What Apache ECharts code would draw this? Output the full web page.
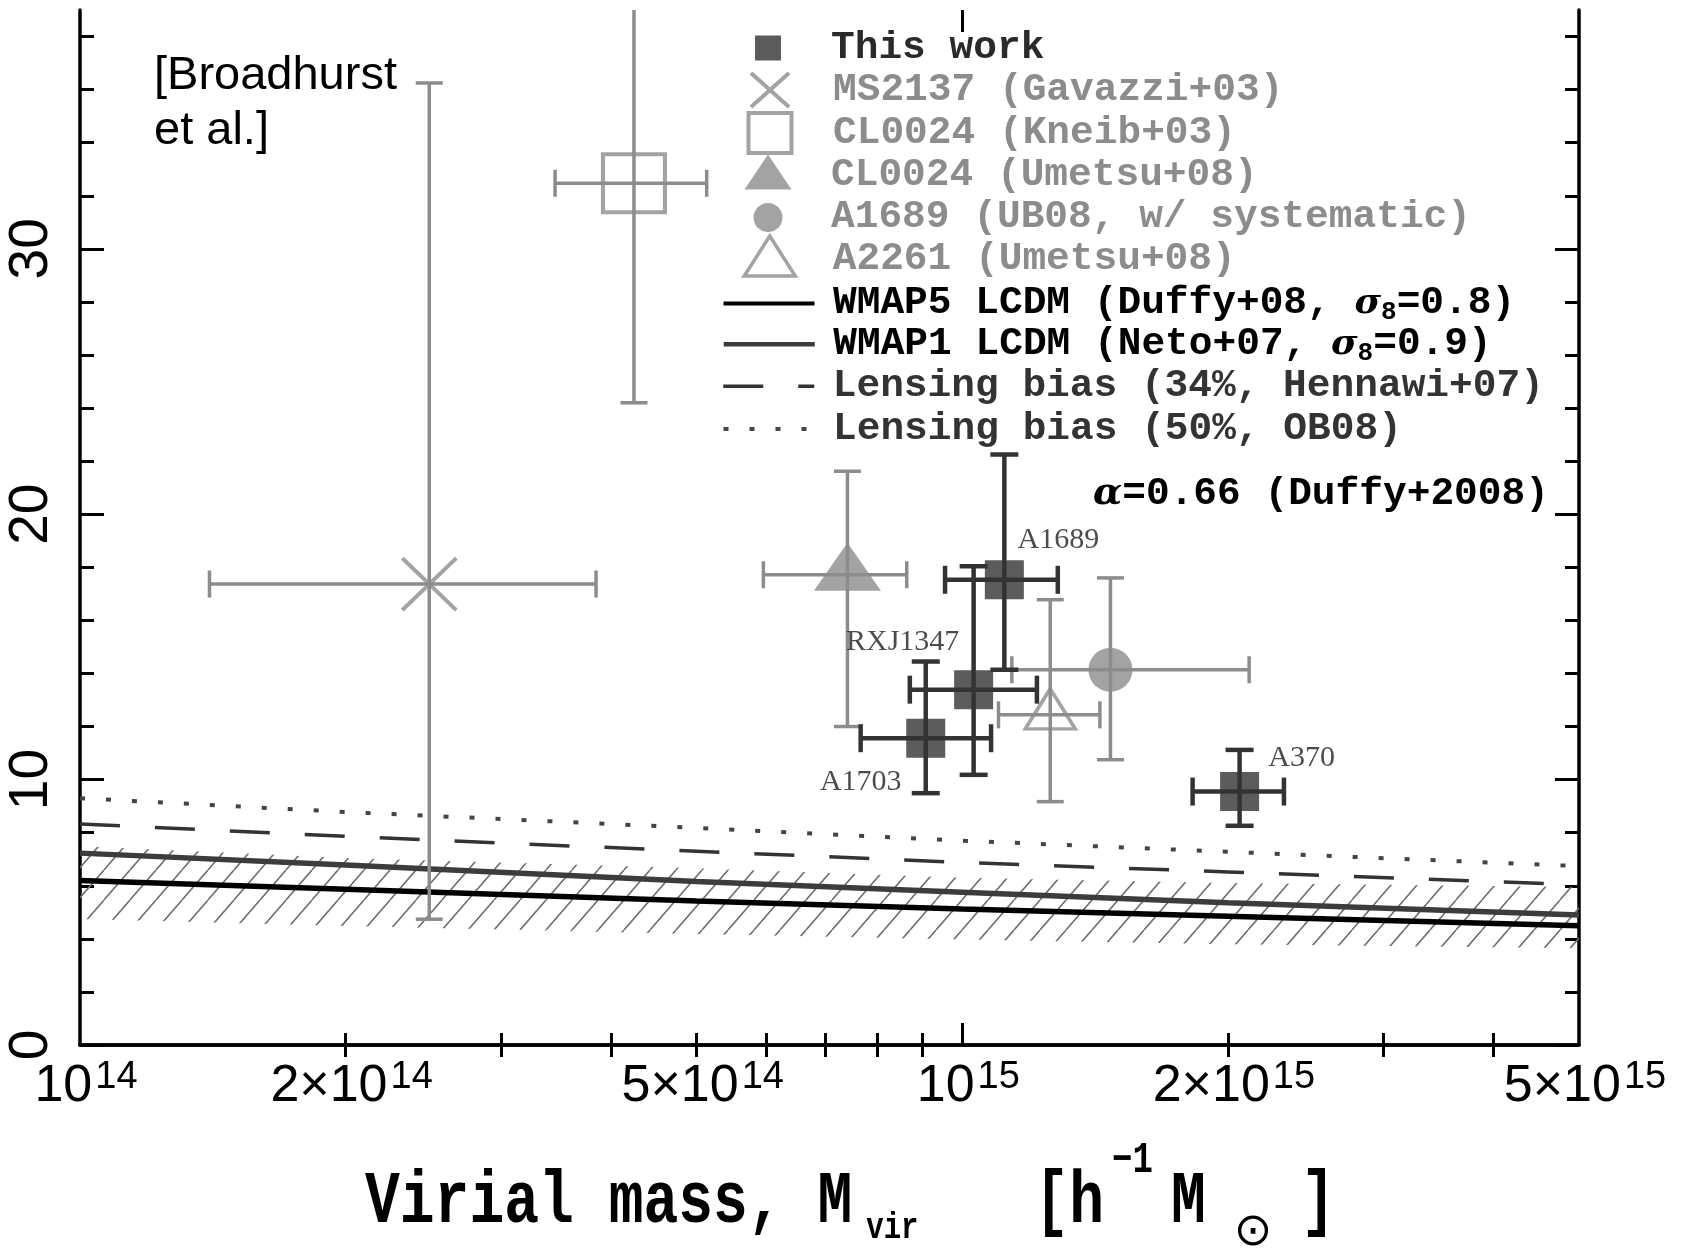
<!DOCTYPE html>
<html>
<head>
<meta charset="utf-8">
<title>Concentration – virial mass relation</title>
<script src="https://cdn.jsdelivr.net/npm/echarts@6/dist/echarts.min.js"></script>
<style>
  html, body { margin: 0; padding: 0; background: #fff; }
  #chart { width: 1683px; height: 1250px; }
</style>
</head>
<body>
<div id="chart"></div>
<script>
// ---- axis ranges and ticks -------------------------------------------------
const massRange = [1e14, 5e15];           // h^-1 Msun
const concRange = [0, 39];
const massMinorTicks = [2e14, 3e14, 4e14, 5e14, 6e14, 7e14, 8e14, 9e14, 2e15, 3e15, 4e15];
const massMajorTicks = [1e15];
const massTickLabels = [1e14, 2e14, 5e14, 1e15, 2e15, 5e15];
const concMajorTicks = [0, 10, 20, 30];
const concMinorTicks = [2, 4, 6, 8, 12, 14, 16, 18, 22, 24, 26, 28, 32, 34, 36, 38];

// ---- cluster measurements: [Mvir, cvir, Mlow, Mhigh, clow, chigh] ----------
const thisWorkNames = ['A1689', 'RXJ1347', 'A1703', 'A370'];
const thisWork = [
  [1.116e15, 17.53, 9.56e14, 1.283e15, 14.14, 22.25],
  [1.030e15, 13.39, 8.72e14, 1.215e15, 10.18, 18.04],
  [9.09e14, 11.56, 7.67e14, 1.078e15, 9.49, 14.45],
  [2.062e15, 9.55, 1.824e15, 2.315e15, 8.26, 11.12]
];
const ms2137 = [[2.488e14, 17.37, 1.402e14, 3.845e14, 4.74, 36.25]];
const cl0024Kneib = [[4.245e14, 32.47, 3.455e14, 5.132e14, 24.2, 45]];
const cl0024Umetsu = [[7.41e14, 17.72, 5.95e14, 8.65e14, 12.0, 21.62]];
const a1689UB08 = [[1.472e15, 14.14, 1.138e15, 2.114e15, 10.75, 17.6]];
const a2261 = [[1.258e15, 12.44, 1.099e15, 1.432e15, 9.17, 16.78]];

// ---- c–M relations, sampled at these masses --------------------------------
const relationMass = [1e14, 2e14, 5e14, 1e15, 2e15, 5e15];
const wmap5 = [6.20, 5.87, 5.43, 5.12, 4.85, 4.49];
const wmap1 = [7.23, 6.78, 6.16, 5.76, 5.36, 4.90];
const bias34 = [8.33, 7.86, 7.30, 6.88, 6.52, 6.04];
const bias50 = [9.30, 8.78, 8.18, 7.70, 7.28, 6.74];
const scatterLow = [4.75, 4.48, 4.18, 3.98, 3.80, 3.65];
const scatterHigh = [7.50, 7.05, 6.66, 6.30, 6.10, 5.95];

// ---- styling ----------------------------------------------------------------
const GREY = '#8c8c8c';
const DARK = '#333333';
const MONO = 'Liberation Mono';
const SANS = 'Liberation Sans';
const labelOffsets = [[54, -40], [-71, -48], [-65, 44], [62, -33]];

function hatchPattern() {
  const c = document.createElement('canvas');
  c.width = 26; c.height = 30;
  const g = c.getContext('2d');
  g.strokeStyle = '#6e6e6e';
  g.lineWidth = 1.6;
  g.beginPath();
  for (const dx of [-26, 0, 26]) { g.moveTo(dx, 30); g.lineTo(dx + 26, 0); }
  g.stroke();
  return c;
}

// error bars with end caps
function errorBars(name, rows, color, width, cap, z) {
  return {
    type: 'custom', name: name, data: rows, z: z, clip: true, silent: true,
    encode: { x: 0, y: 1 },
    renderItem: function (params, api) {
      const x = api.value(0), y = api.value(1);
      const p = api.coord([x, y]);
      const l = api.coord([api.value(2), y]);
      const r = api.coord([api.value(3), y]);
      const b = api.coord([x, api.value(4)]);
      const t = api.coord([x, api.value(5)]);
      const h = cap / 2;
      const style = { stroke: color, lineWidth: width, fill: null };
      const seg = (x1, y1, x2, y2) => ({ type: 'line', shape: { x1, y1, x2, y2 }, style: style });
      return {
        type: 'group',
        children: [
          seg(l[0], p[1], r[0], p[1]), seg(p[0], b[1], p[0], t[1]),
          seg(l[0], p[1] - h, l[0], p[1] + h), seg(r[0], p[1] - h, r[0], p[1] + h),
          seg(p[0] - h, b[1], p[0] + h, b[1]), seg(p[0] - h, t[1], p[0] + h, t[1])
        ]
      };
    }
  };
}

function points(rows) { return rows.map(d => [d[0], d[1]]); }
function pairs(ys) { return relationMass.map((m, i) => [m, ys[i]]); }

const logMin = Math.log10(massRange[0]);
const logMax = Math.log10(massRange[1]);
const axisLineStyle = { color: '#000', width: 3.5 };
const tickLineStyle = { color: '#000', width: 3 };

function tickAxis(position, values, length, extra) {
  return Object.assign({
    type: 'value', position: position, min: logMin, max: logMax,
    axisLine: { show: false },
    axisTick: { show: true, inside: true, length: length, customValues: values.map(Math.log10), lineStyle: tickLineStyle },
    axisLabel: { show: false },
    splitLine: { show: false }
  }, extra || {});
}
function concTickAxis(position, values, length, extra) {
  return Object.assign({
    type: 'value', position: position, min: concRange[0], max: concRange[1],
    axisLine: { show: false },
    axisTick: { show: true, inside: true, length: length, customValues: values, lineStyle: tickLineStyle },
    axisLabel: { show: false },
    splitLine: { show: false }
  }, extra || {});
}

const xAxes = [
  {
    type: 'log', logBase: 10, position: 'bottom', min: massRange[0], max: massRange[1],
    axisLine: { show: true, lineStyle: axisLineStyle },
    axisTick: { show: false }, axisLabel: { show: false }, splitLine: { show: false }
  },
  tickAxis('bottom', massMinorTicks, 12, {
    axisLabel: {
      show: true, margin: 14, customValues: massTickLabels.map(Math.log10),
      formatter: function (v) {
        const e = Math.floor(v + 1e-9);
        const m = Math.round(Math.pow(10, v - e));
        return (m === 1 ? '{b|10}' : '{b|' + m + '×10}') + '{s|' + e + '}';
      },
      rich: {
        b: { fontFamily: SANS, fontSize: 52, lineHeight: 54, verticalAlign: 'bottom', color: '#000', padding: [0, 0, 0, 12] },
        s: { fontFamily: SANS, fontSize: 38, lineHeight: 16, verticalAlign: 'top', color: '#000', padding: [0, 0, 0, 3] }
      }
    }
  }),
  tickAxis('bottom', massMajorTicks, 22),
  tickAxis('top', massMinorTicks, 12, { axisLine: { show: true, lineStyle: axisLineStyle } }),
  tickAxis('top', massMajorTicks, 22)
];

const yAxes = [
  concTickAxis('left', concMajorTicks, 24, {
    axisLine: { show: true, lineStyle: axisLineStyle },
    axisLabel: {
      show: true, customValues: concMajorTicks, rotate: 90, margin: 20,
      fontFamily: SANS, fontSize: 55, lineHeight: 56, color: '#000'
    }
  }),
  concTickAxis('left', concMinorTicks, 14),
  concTickAxis('right', concMajorTicks, 24, { axisLine: { show: true, lineStyle: axisLineStyle } }),
  concTickAxis('right', concMinorTicks, 14)
];

// ---- series -----------------------------------------------------------------
const bandRows = relationMass.map((m, i) => [m, scatterLow[i], scatterHigh[i]]);
const hatch = { image: hatchPattern(), repeat: 'repeat' };

const series = [
  {
    type: 'custom', name: 'scatter band', data: bandRows, z: 1, clip: true, silent: true,
    encode: { x: 0, y: [1, 2] },
    renderItem: function (params, api) {
      if (params.dataIndex !== 0) return { type: 'group', children: [] };
      const upper = bandRows.map(r => api.coord([r[0], r[2]]));
      const lower = bandRows.map(r => api.coord([r[0], r[1]])).reverse();
      return { type: 'polygon', shape: { points: upper.concat(lower) }, style: { fill: hatch, stroke: null } };
    }
  },
  {
    type: 'line', name: 'Lensing bias (50%, OB08)', data: pairs(bias50), symbol: 'none', z: 2, silent: true,
    lineStyle: { color: '#444', width: 4, type: [5, 21] }
  },
  {
    type: 'line', name: 'Lensing bias (34%, Hennawi+07)', data: pairs(bias34), symbol: 'none', z: 2, silent: true,
    lineStyle: { color: '#333', width: 3.5, type: [40, 35] }
  },
  {
    type: 'line', name: 'WMAP1 LCDM (Neto+07, σ8=0.9)', data: pairs(wmap1), symbol: 'none', z: 3, silent: true,
    lineStyle: { color: '#3c3c3c', width: 5.5 }
  },
  {
    type: 'line', name: 'WMAP5 LCDM (Duffy+08, σ8=0.8)', data: pairs(wmap5), symbol: 'none', z: 3, silent: true,
    lineStyle: { color: '#000', width: 5.5 }
  },
  errorBars('MS2137 bars', ms2137, GREY, 3.5, 27, 4),
  errorBars('CL0024 K bars', cl0024Kneib, GREY, 3.5, 27, 4),
  errorBars('CL0024 U bars', cl0024Umetsu, GREY, 3.5, 27, 4),
  errorBars('A1689 UB08 bars', a1689UB08, GREY, 3.5, 27, 4),
  errorBars('A2261 bars', a2261, GREY, 3.5, 27, 4),
  {
    type: 'scatter', name: 'MS2137 (Gavazzi+03)', data: points(ms2137), z: 5, silent: true,
    symbol: 'path://M0,0L50,50M50,0L0,50', symbolSize: [54, 52],
    itemStyle: { color: 'rgba(0,0,0,0)', borderColor: GREY, borderWidth: 4 }
  },
  {
    type: 'scatter', name: 'CL0024 (Kneib+03)', data: points(cl0024Kneib), z: 5, silent: true,
    symbol: 'rect', symbolSize: [62, 58],
    itemStyle: { color: 'rgba(0,0,0,0)', borderColor: GREY, borderWidth: 4 }
  },
  {
    type: 'scatter', name: 'CL0024 (Umetsu+08)', data: points(cl0024Umetsu), z: 5, silent: true,
    symbol: 'triangle', symbolSize: [67, 48], symbolOffset: [0, -8],
    itemStyle: { color: GREY }
  },
  {
    type: 'scatter', name: 'A1689 (UB08, w/ systematic)', data: points(a1689UB08), z: 5, silent: true,
    symbol: 'circle', symbolSize: 44, itemStyle: { color: GREY }
  },
  {
    type: 'scatter', name: 'A2261 (Umetsu+08)', data: points(a2261), z: 5, silent: true,
    symbol: 'triangle', symbolSize: [50, 40], symbolOffset: [0, -6],
    itemStyle: { color: 'rgba(0,0,0,0)', borderColor: GREY, borderWidth: 3.5 }
  },
  errorBars('This work bars', thisWork, DARK, 4.5, 28, 6),
  {
    type: 'scatter', name: 'This work', z: 7, silent: true,
    data: thisWork.map((d, i) => ({
      value: [d[0], d[1]], name: thisWorkNames[i],
      label: { offset: labelOffsets[i] }
    })),
    symbol: 'rect', symbolSize: 39, itemStyle: { color: DARK },
    label: {
      show: true, position: 'inside', formatter: '{b}',
      fontFamily: 'Liberation Serif', fontSize: 30, color: '#1e1e1e'
    }
  }
];

// ---- legend: one component per row -------------------------------------------
const LEGEND_TEXT_X = 831;
const LEGEND_LINE_H = 44;
function legendRow(name, cx, cy, w, h, textColor, extra, textDy) {
  const dy = textDy || 0;
  const textBoxH = LEGEND_LINE_H + 2 * Math.abs(dy);
  const left = cx - w / 2;
  const top = cy - Math.max(h, textBoxH) / 2;
  return {
    show: true, left: left, top: top, padding: 0, itemWidth: w, itemHeight: h,
    selectedMode: false, symbolKeepAspect: false,
    data: [Object.assign({ name: name }, extra || {})],
    formatter: n => n.replace('σ8', '{sg|σ}{sb|8}'),
    textStyle: {
      fontFamily: MONO, fontWeight: 'bold', fontSize: 39.5, lineHeight: LEGEND_LINE_H, color: textColor,
      padding: [Math.max(0, 2 * dy), 0, Math.max(0, -2 * dy), LEGEND_TEXT_X - (left + w + 5)],
      rich: {
        sg: { fontFamily: 'DejaVu Serif', fontStyle: 'italic', fontWeight: 'bold', fontSize: 36, color: textColor },
        sb: { fontFamily: MONO, fontWeight: 'bold', fontSize: 26, lineHeight: 14, verticalAlign: 'bottom', color: textColor }
      }
    }
  };
}
const ICON_X = 768;
const LINE_X = 767;
const lineIcon = (width) => ({ itemStyle: { opacity: 0 }, lineStyle: { width: width } });
const legends = [
  legendRow('This work', ICON_X, 48, 26, 25, '#2a2a2a', { itemStyle: { borderWidth: 0 } }),
  legendRow('MS2137 (Gavazzi+03)', ICON_X, 90, 38, 34, GREY, { itemStyle: { borderWidth: 4 } }),
  legendRow('CL0024 (Kneib+03)', ICON_X, 133, 43, 40, GREY, { itemStyle: { borderWidth: 4 } }),
  legendRow('CL0024 (Umetsu+08)', ICON_X, 172, 47, 35, GREY, { itemStyle: { borderWidth: 0 } }, 3),
  legendRow('A1689 (UB08, w/ systematic)', ICON_X, 217.5, 29, 29, GREY, { itemStyle: { borderWidth: 0 } }),
  legendRow('A2261 (Umetsu+08)', ICON_X, 256, 51, 40, GREY, { itemStyle: { borderWidth: 3.5 } }, 3),
  legendRow('WMAP5 LCDM (Duffy+08, σ8=0.8)', LINE_X, 303.5, 91, 10, '#000', lineIcon(4)),
  legendRow('WMAP1 LCDM (Neto+07, σ8=0.9)', LINE_X, 344.3, 91, 10, '#000', lineIcon(4.5)),
  legendRow('Lensing bias (34%, Hennawi+07)', LINE_X, 386.2, 91, 10, '#333', lineIcon(3.5)),
  legendRow('Lensing bias (50%, OB08)', LINE_X, 429.1, 91, 10, '#333', lineIcon(4))
];

// ---- annotations ------------------------------------------------------------
const graphics = [
  {
    type: 'text', x: 154, y: 103.5, silent: true,
    style: { text: '[Broadhurst\net al.]', fontFamily: SANS, fontSize: 47, lineHeight: 55, fill: '#000', align: 'left', verticalAlign: 'middle' }
  },
  {
    type: 'text', x: 1093, y: 494, silent: true,
    style: {
      text: '{a|α}=0.66 (Duffy+2008)', fontFamily: MONO, fontWeight: 'bold', fontSize: 39.5, fill: '#000',
      align: 'left', verticalAlign: 'middle',
      rich: { a: { fontFamily: 'DejaVu Serif', fontStyle: 'italic', fontWeight: 'bold', fontSize: 38, fill: '#000' } }
    }
  },
  // x-axis title (tall typewriter lettering); sub/superscripts shifted with padding
  {
    type: 'text', x: 365, y: 1203, scaleY: 1.28, silent: true,
    style: {
      text: '{t|Virial mass, M}{v|vir}{h|[h}{p|−1}{m|M}{e|]}',
      align: 'left', verticalAlign: 'middle',
      rich: {
        t: { fontFamily: MONO, fontWeight: 'bold', fontSize: 58, lineHeight: 80, verticalAlign: 'middle', fill: '#000' },
        v: { fontFamily: MONO, fontWeight: 'bold', fontSize: 29, lineHeight: 30, verticalAlign: 'middle', fill: '#000', padding: [40, 0, 0, 14] },
        h: { fontFamily: MONO, fontWeight: 'bold', fontSize: 58, lineHeight: 80, verticalAlign: 'middle', fill: '#000', padding: [0, 0, 0, 116] },
        p: { fontFamily: MONO, fontWeight: 'bold', fontSize: 34, lineHeight: 34, verticalAlign: 'middle', fill: '#000', padding: [0, 0, 66, 8] },
        m: { fontFamily: MONO, fontWeight: 'bold', fontSize: 58, lineHeight: 80, verticalAlign: 'middle', fill: '#000', padding: [0, 0, 0, 18] },
        e: { fontFamily: MONO, fontWeight: 'bold', fontSize: 58, lineHeight: 80, verticalAlign: 'middle', fill: '#000', padding: [0, 0, 0, 95] }
      }
    }
  },
  {
    type: 'text', x: 1253, y: 1233, silent: true,
    style: { text: '⊙', fontFamily: 'DejaVu Sans', fontSize: 46, fill: '#000', align: 'center', verticalAlign: 'middle' }
  }
];

const chart = echarts.init(document.getElementById('chart'), null, { renderer: 'canvas' });
chart.setOption({
  animation: false,
  backgroundColor: '#fff',
  grid: { left: 80, right: 104, top: 10, bottom: 205, containLabel: false },
  xAxis: xAxes,
  yAxis: yAxes,
  legend: legends,
  series: series,
  graphic: graphics
});
</script>
</body>
</html>
